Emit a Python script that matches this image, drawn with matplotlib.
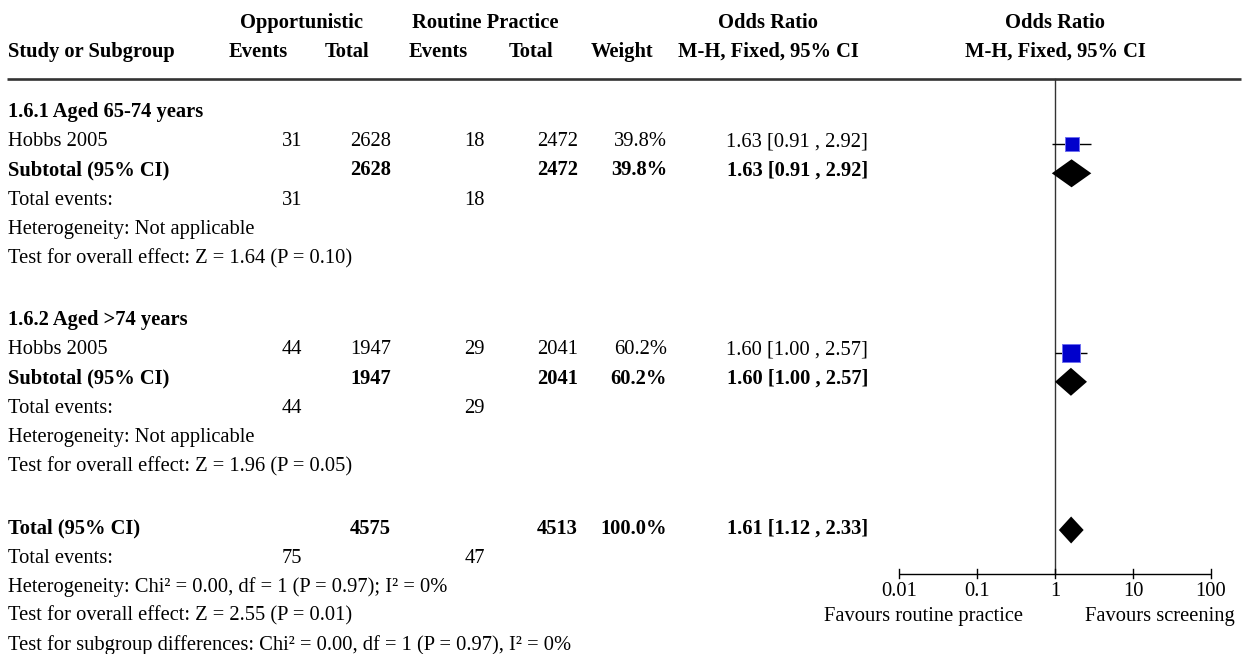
import numpy as np
import matplotlib
matplotlib.use("Agg")
import matplotlib.pyplot as plt

# ---- data -------------------------------------------------------------
subgroup_titles = ["1.6.1 Aged 65-74 years", "1.6.2 Aged >74 years"]
study_names = ["Hobbs 2005", "Hobbs 2005"]
opp_events = [31, 44]
opp_total = [2628, 1947]
rp_events = [18, 29]
rp_total = [2472, 2041]
weights = [39.8, 60.2]
or_est = [1.63, 1.60]
or_lo = [0.91, 1.00]
or_hi = [2.92, 2.57]
subgroup_effect = ["Test for overall effect: Z = 1.64 (P = 0.10)",
                   "Test for overall effect: Z = 1.96 (P = 0.05)"]

total_est, total_lo, total_hi = 1.61, 1.12, 2.33
total_weight = 100.0
total_het = "Heterogeneity: Chi\u00b2 = 0.00, df = 1 (P = 0.97); I\u00b2 = 0%"
total_effect = "Test for overall effect: Z = 2.55 (P = 0.01)"
subgroup_diff = "Test for subgroup differences: Chi\u00b2 = 0.00, df = 1 (P = 0.97), I\u00b2 = 0%"

axis_ticks = [0.01, 0.1, 1, 10, 100]
axis_tick_labels = ["0.01", "0.1", "1", "10", "100"]
favours_left = "Favours routine practice"
favours_right = "Favours screening"

# ---- figure / layout --------------------------------------------------
W, H = 1243, 654
fig = plt.figure(figsize=(W / 100, H / 100), dpi=100)
FS = 14.8
FONT = "Liberation Serif"

# table axes in pixel coordinates
ax = fig.add_axes([0, 0, 1, 1])
ax.set_xlim(0, W)
ax.set_ylim(H, 0)
ax.axis("off")

# forest axes: log odds-ratio scale on x, pixel rows on y
x0, x1 = 899, 1211
axf = fig.add_axes([x0 / W, 0, (x1 - x0) / W, 1])
axf.set_xscale("log")
axf.set_xlim(0.01, 100)
axf.set_ylim(H, 0)
axf.axis("off")


def txt(x, y, s, ha="left", bold=False):
    ax.text(x, y, s, ha=ha, va="baseline", fontsize=FS, family=FONT,
            fontweight="bold" if bold else "normal", color="black")


# column anchors (pixels)
X_LABEL = 8
X_OE, X_OT, X_RE, X_RT, X_W, X_CI = 302, 391, 485, 578, 667, 868

# header
txt(302, 28, "Opportunistic", "center", True)
txt(485, 28, "Routine Practice", "center", True)
txt(768, 28, "Odds Ratio", "center", True)
txt(1055, 28, "Odds Ratio", "center", True)
txt(X_LABEL, 57, "Study or Subgroup", "left", True)
txt(258, 57, "Events", "center", True)
txt(347, 57, "Total", "center", True)
txt(438, 57, "Events", "center", True)
txt(531, 57, "Total", "center", True)
txt(622.5, 57, "Weight", "center", True)
txt(768.5, 57, "M-H, Fixed, 95% CI", "center", True)
txt(1055, 57, "M-H, Fixed, 95% CI", "center", True)
ax.plot([7, 1241], [79, 79], color="#333333", lw=1.9, solid_capstyle="butt")

PITCH = 29.3
group_starts = [116.7, 325.2]
MARK_OFF = -2.0


def ci_text(e, l, h):
    return f"{e:.2f} [{l:.2f} , {h:.2f}]"


def diamond(y, lo, est, hi, h=28):
    axf.fill([lo, est, hi, est], [y, y - h / 2, y, y + h / 2],
             color="black", lw=0, clip_on=False, zorder=4)


for g in range(2):
    y = [group_starts[g] + PITCH * k for k in range(6)]
    txt(X_LABEL, y[0], subgroup_titles[g], bold=True)
    # study row
    txt(X_LABEL, y[1], study_names[g])
    txt(X_OE, y[1], str(opp_events[g]), "right")
    txt(X_OT, y[1], str(opp_total[g]), "right")
    txt(X_RE, y[1], str(rp_events[g]), "right")
    txt(X_RT, y[1], str(rp_total[g]), "right")
    txt(X_W, y[1], f"{weights[g]:.1f}%", "right")
    txt(X_CI, y[1], ci_text(or_est[g], or_lo[g], or_hi[g]), "right")
    # subtotal row
    txt(X_LABEL, y[2], "Subtotal (95% CI)", bold=True)
    txt(X_OT, y[2], str(opp_total[g]), "right", True)
    txt(X_RT, y[2], str(rp_total[g]), "right", True)
    txt(X_W, y[2], f"{weights[g]:.1f}%", "right", True)
    txt(X_CI, y[2], ci_text(or_est[g], or_lo[g], or_hi[g]), "right", True)
    # totals and tests
    txt(X_LABEL, y[3], "Total events:")
    txt(X_OE, y[3], str(opp_events[g]), "right")
    txt(X_RE, y[3], str(rp_events[g]), "right")
    txt(X_LABEL, y[4], "Heterogeneity: Not applicable")
    txt(X_LABEL, y[5], subgroup_effect[g])

    # forest marks
    ys = y[1] + MARK_OFF
    axf.plot([or_lo[g], or_hi[g]], [ys, ys], color="black", lw=1.0,
             clip_on=False, zorder=3, solid_capstyle="butt")
    side_px = 2.33 * np.sqrt(weights[g])
    axf.plot([or_est[g]], [ys], marker="s", linestyle="none",
             markersize=(side_px - 1) * 0.72, markerfacecolor="#0000CC",
             markeredgecolor="#6f6ff0", markeredgewidth=0.7,
             clip_on=False, zorder=5)
    diamond(y[2] + MARK_OFF, or_lo[g], or_est[g], or_hi[g])

# overall
yt = [533.5 + 29.1 * k for k in range(5)]
txt(X_LABEL, yt[0], "Total (95% CI)", bold=True)
txt(X_OT, yt[0], str(sum(opp_total)), "right", True)
txt(X_RT, yt[0], str(sum(rp_total)), "right", True)
txt(X_W, yt[0], f"{total_weight:.1f}%", "right", True)
txt(X_CI, yt[0], ci_text(total_est, total_lo, total_hi), "right", True)
txt(X_LABEL, yt[1], "Total events:")
txt(X_OE, yt[1], str(sum(opp_events)), "right")
txt(X_RE, yt[1], str(sum(rp_events)), "right")
txt(X_LABEL, yt[2], total_het)
txt(X_LABEL, yt[3], total_effect)
txt(X_LABEL, yt[4], subgroup_diff)
diamond(yt[0] + MARK_OFF - 1.5, total_lo, total_est, total_hi, h=27)

# line of no effect and the odds-ratio axis
AXIS_Y = 574.3
axf.plot([1, 1], [79, AXIS_Y], color="#333333", lw=1.0, clip_on=False, zorder=2)
axf.plot([axis_ticks[0], axis_ticks[-1]], [AXIS_Y, AXIS_Y], color="black",
         lw=1.0, clip_on=False, solid_capstyle="butt")
for t, lab in zip(axis_ticks, axis_tick_labels):
    axf.plot([t, t], [AXIS_Y - 5, AXIS_Y + 3.5], color="black", lw=1.0,
             clip_on=False)
    axf.text(t, 596.5, lab, ha="center", va="baseline", fontsize=FS,
             family=FONT)
txt(923.5, 621.5, favours_left, "center")
txt(1160, 621.5, favours_right, "center")

fig.savefig("out.png", dpi=100, facecolor="white")
